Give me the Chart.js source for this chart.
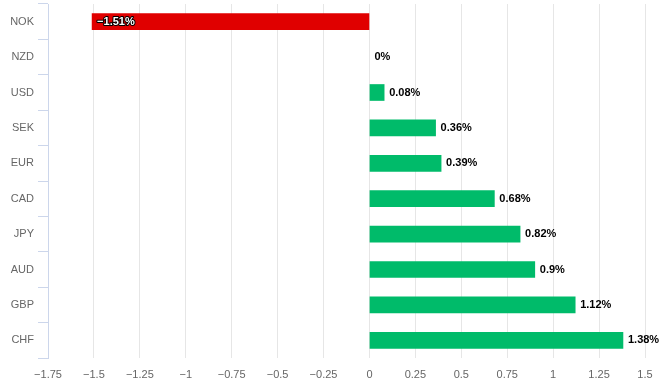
<!DOCTYPE html>
<html>
<head>
<meta charset="utf-8">
<script src="https://cdn.jsdelivr.net/npm/chart.js@4"></script>
<style>
  html, body { margin: 0; padding: 0; background: #fff; }
  #wrap { width: 665px; height: 390px; }
</style>
</head>
<body>
<div id="wrap"><canvas id="chart"></canvas></div>
<script>
const currencies = ['NOK','NZD','USD','SEK','EUR','CAD','JPY','AUD','GBP','CHF'];
const changes = [-1.51, 0, 0.08, 0.36, 0.39, 0.68, 0.82, 0.9, 1.12, 1.38];
const labelFont = 'Liberation Sans';

const fmt = v => String(v).replace('-', '\u2212');

// etiquetas de valor al final de cada barra
const valueLabels = {
    id: 'valueLabels',
    afterDatasetsDraw(chart) {
        const ctx = chart.ctx;
        const meta = chart.getDatasetMeta(0);
        ctx.save();
        ctx.font = 'bold 11px ' + labelFont;
        ctx.textBaseline = 'middle';
        ctx.textAlign = 'left';
        ctx.lineJoin = 'round';
        meta.data.forEach((bar, i) => {
            const v = changes[i];
            const txt = fmt(v) + '%';
            if (v < 0) {
                ctx.lineWidth = 2;
                ctx.strokeStyle = '#000';
                ctx.strokeText(txt, bar.x + 5, bar.y);
                ctx.fillStyle = '#fff';
            } else {
                ctx.fillStyle = '#000';
            }
            ctx.fillText(txt, bar.x + 5, bar.y);
        });
        ctx.restore();
    }
};

new Chart(document.getElementById('chart').getContext('2d'), {
    type: 'bar',
    data: {
        labels: currencies,
        datasets: [{
            data: changes,
            backgroundColor: changes.map(v => v < 0 ? '#e00000' : (v === 0 ? 'rgba(0,0,0,0)' : '#00bb6a')),
            barThickness: 16,
            borderWidth: 0
        }]
    },
    options: {
        indexAxis: 'y',
        responsive: true,
        maintainAspectRatio: false,
        animation: false,
        layout: { padding: { top: 4, right: 20, left: 0, bottom: 0 } },
        plugins: { legend: { display: false }, tooltip: { enabled: false } },
        scales: {
            x: {
                min: -1.75,
                max: 1.5,
                ticks: {
                    stepSize: 0.25,
                    color: '#666',
                    font: { family: labelFont, size: 11 },
                    padding: 10,
                    callback: v => fmt(v)
                },
                grid: { color: '#e6e6e6', drawTicks: false },
                border: { display: false },
                afterFit: s => { s.height = 32; s.paddingLeft = 0; s.paddingRight = 0; }
            },
            y: {
                ticks: {
                    color: '#666',
                    font: { family: labelFont, size: 11 },
                    padding: 4
                },
                grid: { drawOnChartArea: false, color: '#ccd6eb', tickLength: 10, offset: true },
                border: { color: '#ccd6eb' },
                afterFit: s => { s.width = 48; s.paddingTop = 0; s.paddingBottom = 0; }
            }
        }
    },
    plugins: [valueLabels]
});
</script>
</body>
</html>
